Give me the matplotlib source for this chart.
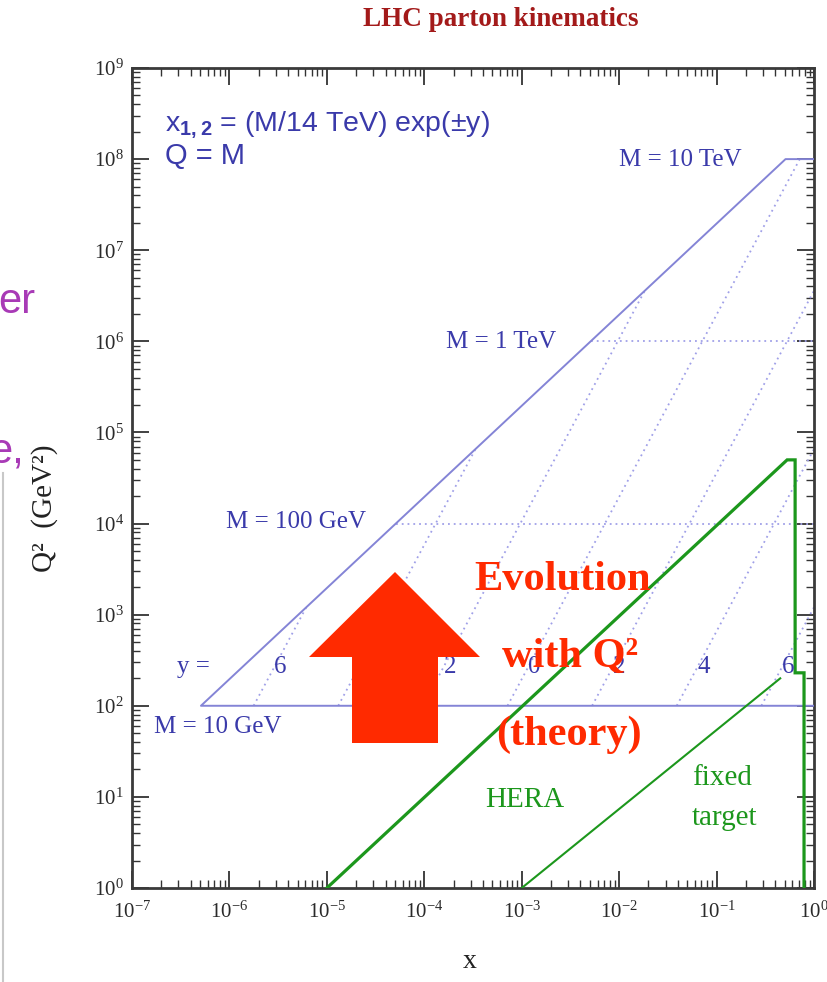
import numpy as np
import matplotlib
matplotlib.use("Agg")
import matplotlib.pyplot as plt
from matplotlib.patches import Polygon
from matplotlib.lines import Line2D
from matplotlib.ticker import LogLocator, FuncFormatter, NullFormatter

plt.rcParams["mathtext.fontset"] = "custom"
plt.rcParams["mathtext.rm"] = "Liberation Serif"
plt.rcParams["mathtext.bf"] = "Liberation Sans:bold"
plt.rcParams["mathtext.default"] = "regular"

SERIF = "Liberation Serif"
SANS = "Liberation Sans"

# ---- LHC kinematics: x1,2 = (M/14 TeV) exp(+-y), Q = M ----
sqrt_s_lhc = 14000.0                       # GeV
masses = [10.0, 100.0, 1000.0, 10000.0]    # GeV
mass_labels = ["M = 10 GeV", "M = 100 GeV", "M = 1 TeV", "M = 10 TeV"]
rapidities = [6, 4, 2, 0]

# ---- HERA and fixed-target coverage ----
hera_x = [1e-5, 0.53, 0.64, 0.64, 0.79, 0.79]
hera_q2 = [1.0, 5.0e4, 5.0e4, 230.0, 230.0, 1.0]
fixed_x = [1e-3, 0.45]
fixed_q2 = [1.0, 200.0]

# axis ranges
x_range = (1e-7, 1.0)
q2_range = (1.0, 1e9)

W, H = 828, 982
BLUE_LINE = "#8484d6"
BLUE_DOT = "#a0a0e8"
BLUE_TEXT = "#3a3aaa"
GREEN = "#1c971c"
RED = "#ff2a00"

fig = plt.figure(figsize=(W / 100, H / 100), dpi=100)
fig.patch.set_facecolor("white")


def fxy(px, py):
    """pixel position -> figure fraction"""
    return px / W, 1 - py / H


ax = fig.add_axes([132 / W, 1 - 888 / H, (814 - 132) / W, (888 - 68) / H])
ax.set_xscale("log")
ax.set_yscale("log")
ax.set_xlim(*x_range)
ax.set_ylim(*q2_range)

for sp in ax.spines.values():
    sp.set_linewidth(2.0)
    sp.set_color("#3a3a3a")

ax.xaxis.set_major_locator(LogLocator(base=10, numticks=20))
ax.yaxis.set_major_locator(LogLocator(base=10, numticks=20))
ax.xaxis.set_minor_locator(LogLocator(base=10, subs=np.arange(2, 10), numticks=20))
ax.yaxis.set_minor_locator(LogLocator(base=10, subs=np.arange(2, 10), numticks=20))
ax.xaxis.set_minor_formatter(NullFormatter())
ax.yaxis.set_minor_formatter(NullFormatter())
fmt = FuncFormatter(lambda v, p: r"$\mathregular{10^{%d}}$" % int(round(np.log10(v))))
ax.xaxis.set_major_formatter(fmt)
ax.yaxis.set_major_formatter(fmt)
ax.tick_params(which="both", direction="in", top=True, right=True, colors="#333333")
ax.tick_params(which="major", length=12, width=1.3)
ax.tick_params(which="minor", length=6, width=1.0)
ax.tick_params(axis="x", pad=10)
ax.tick_params(axis="y", pad=6)
for lab in ax.get_xticklabels() + ax.get_yticklabels():
    lab.set_fontfamily(SERIF)
    lab.set_fontsize(15)
    lab.set_color("#2a2a2a")

# kinematic boundary (x2 = 1 edge, lowest and highest mass)
s = sqrt_s_lhc ** 2
m_lo, m_hi = masses[0], masses[-1]
bound_x = [x_range[1], m_lo ** 2 / s, m_hi ** 2 / s, x_range[1]]
bound_q2 = [m_lo ** 2, m_lo ** 2, m_hi ** 2, m_hi ** 2]
ax.plot(bound_x, bound_q2, color=BLUE_LINE, lw=1.4, zorder=3)

# intermediate mass lines
for m in masses[1:-1]:
    ax.plot([m ** 2 / s, x_range[1]], [m ** 2, m ** 2], color=BLUE_DOT,
            lw=1.3, ls=(0, (1, 2.2)), zorder=2)

# constant-rapidity lines
label_q2 = 10 ** 2.43
for y in rapidities:
    m_end = min(m_hi, sqrt_s_lhc * np.exp(-y))
    m_pts = np.array([m_lo, m_end])
    branches = [-1, 1] if y > 0 else [1]
    for sgn in branches:
        xs = m_pts / sqrt_s_lhc * np.exp(sgn * y)
        ax.plot(xs, m_pts ** 2, color=BLUE_DOT, lw=1.3, ls=(0, (1, 2.2)), zorder=2)
        xl = np.sqrt(label_q2) / sqrt_s_lhc * np.exp(sgn * y) * 1.15
        ax.text(xl, label_q2, str(y), family=SERIF, fontsize=18, color=BLUE_TEXT,
                ha="center", va="center", zorder=4)

# HERA and fixed target
ax.plot(hera_x, hera_q2, color=GREEN, lw=2.3, zorder=3, solid_joinstyle="miter")
ax.plot(fixed_x, fixed_q2, color=GREEN, lw=1.5, zorder=3)

# annotations in the plot
ax.text(*fxy(165, 125), r"x$_{\mathbf{1,2}}$ = (M/14 TeV) exp(±y)", transform=fig.transFigure,
        family=SANS, fontsize=20.5, color=BLUE_TEXT, ha="left", va="center")
ax.text(*fxy(165, 156), "Q = M", transform=fig.transFigure,
        family=SANS, fontsize=21, color=BLUE_TEXT, ha="left", va="center")

mass_label_pos = [(218, 727), (296, 522), (501, 342), (680, 160)]
for txt, (px, py) in zip(mass_labels, mass_label_pos):
    ax.text(*fxy(px, py), txt, transform=fig.transFigure, family=SERIF,
            fontsize=18, color=BLUE_TEXT, ha="center", va="center", zorder=4)
ax.text(*fxy(193, 667), "y =", transform=fig.transFigure, family=SERIF,
        fontsize=18, color=BLUE_TEXT, ha="center", va="center", zorder=4)

ax.text(*fxy(525, 800), "HERA", transform=fig.transFigure, family=SERIF,
        fontsize=21, color=GREEN, ha="center", va="center")
ax.text(*fxy(722, 778), "fixed", transform=fig.transFigure, family=SERIF,
        fontsize=21, color=GREEN, ha="center", va="center")
ax.text(*fxy(725, 818), "target", transform=fig.transFigure, family=SERIF,
        fontsize=21, color=GREEN, ha="center", va="center")

# Q^2 evolution arrow and caption
arrow_px = [(395, 572), (480, 657), (438, 657), (438, 743),
            (352, 743), (352, 657), (309, 657)]
arrow = Polygon([fxy(px, py) for px, py in arrow_px], closed=True,
                transform=fig.transFigure, facecolor=RED, edgecolor="none", zorder=6)
fig.patches.append(arrow)
for txt, (px, py) in zip(["Evolution", "with Q²", "(theory)"],
                         [(563, 580), (570, 657), (569, 735)]):
    fig.text(*fxy(px, py), txt, family=SERIF, fontweight="bold", fontsize=30.5,
             color=RED, ha="center", va="center", zorder=7)

# axis titles
fig.text(*fxy(501, 20), "LHC parton kinematics", family=SERIF, fontweight="bold",
         fontsize=19.5, color="#a31a1a", ha="center", va="center")
fig.text(*fxy(470, 962), "x", family=SERIF, fontsize=20, color="#222222",
         ha="center", va="center")
fig.text(*fxy(45, 508), "Q²  (GeV²)", family=SERIF, fontsize=21, color="#222222",
         ha="center", va="center", rotation=90)

# slide text peeking in from the left
fig.text(*fxy(35, 302), "er", family=SANS, fontsize=30, color="#a83ab6",
         ha="right", va="center")
fig.text(*fxy(24, 452), "e,", family=SANS, fontsize=30, color="#a83ab6",
         ha="right", va="center")
fig.add_artist(Line2D([3 / W, 3 / W], [1 - 982 / H, 1 - 473 / H],
                      transform=fig.transFigure, color="#c8c8c8", lw=1.5))

fig.savefig("out.png", dpi=100, facecolor="white")
